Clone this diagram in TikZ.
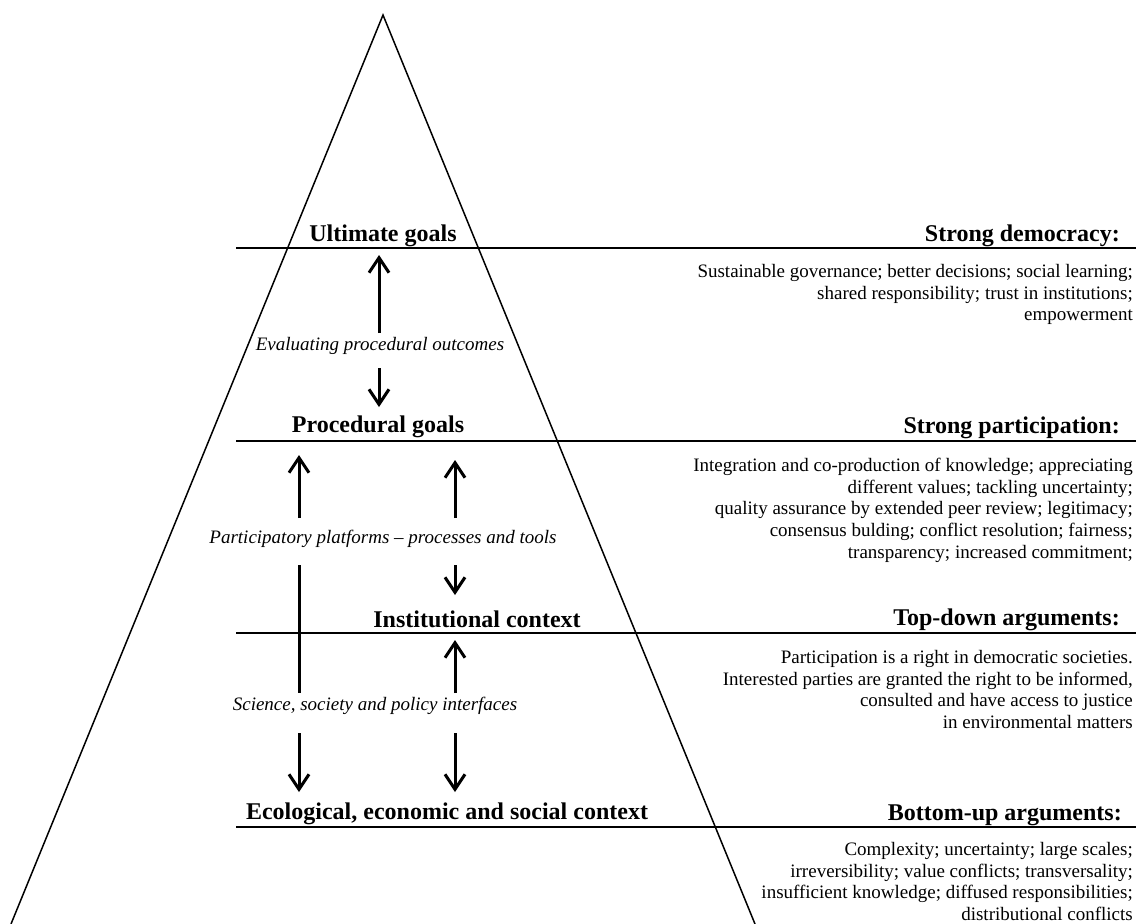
\documentclass[tikz,border=0pt]{standalone}
\usepackage{fontspec}
\setmainfont{Liberation Serif}
\usetikzlibrary{arrows.meta}
\tikzset{
  edge/.style={line width=1.5pt},
  level/.style={line width=2pt},
  head/.style={font=\fontsize{24}{28}\selectfont\bfseries, inner sep=0pt},
  body/.style={font=\fontsize{19}{21.7}\selectfont, align=right, inner sep=0pt, anchor=north east},
  lab/.style={font=\fontsize{19}{22}\selectfont\itshape, inner sep=0pt, anchor=base},
  arr/.style={line width=3pt, -{Straight Barb[length=15pt,width=20pt,line width=3pt]}},
  bar/.style={line width=3pt}
}
\begin{document}
\begin{tikzpicture}[x=1pt,y=-1pt]
\useasboundingbox (0,0) rectangle (1136,924);
% pyramid
\coordinate (apex) at (383,15);
\coordinate (bl) at (11,924);
\coordinate (br) at (755,924);
\draw[edge] (bl) -- (apex) -- (br);
% level lines
\coordinate (l1a) at (236,248); \coordinate (l1b) at (1136,248);
\coordinate (l2a) at (236,441); \coordinate (l2b) at (1136,441);
\coordinate (l3a) at (236,633); \coordinate (l3b) at (1136,633);
\coordinate (l4a) at (236,827); \coordinate (l4b) at (1136,827);
\draw[level] (l1a) -- (l1b);
\draw[level] (l2a) -- (l2b);
\draw[level] (l3a) -- (l3b);
\draw[level] (l4a) -- (l4b);
% left headers
\node[head, anchor=base] (ult) at (383,241) {Ultimate goals};
\node[head, anchor=base] (proc) at (378,432) {Procedural goals};
\node[head, anchor=base] (inst) at (477,627) {Institutional context};
\node[head, anchor=base] (eco) at (447,819) {Ecological, economic and social context};
% right headers
\node[head, anchor=base east] (sd) at (1120,241) {Strong democracy:};
\node[head, anchor=base east] (sp) at (1120,433) {Strong participation:};
\node[head, anchor=base east] (td) at (1120,625) {Top-down arguments:};
\node[head, anchor=base east] (bu) at (1122,820) {Bottom-up arguments:};
% right bodies
\node[body] (sdt) at (1133,264) {Sustainable governance; better decisions; social learning;\\ shared responsibility; trust in institutions;\\ empowerment};
\node[body] (spt) at (1133,458) {Integration and co-production of knowledge; appreciating\\ different values; tackling uncertainty;\\ quality assurance by extended peer review; legitimacy;\\ consensus bulding; conflict resolution; fairness;\\ transparency; increased commitment;};
\node[body] (tdt) at (1133,650) {Participation is a right in democratic societies.\\ Interested parties are granted the right to be informed,\\ consulted and have access to justice\\ in environmental matters};
\node[body] (but) at (1133,842) {Complexity; uncertainty; large scales;\\ irreversibility; value conflicts; transversality;\\ insufficient knowledge; diffused responsibilities;\\ distributional conflicts};
% italic labels
\node[lab] (eval) at (380,350) {Evaluating procedural outcomes};
\node[lab] (part) at (383,543) {Participatory platforms -- processes and tools};
\node[lab] (sci) at (375,710) {Science, society and policy interfaces};
% arrows: evaluating
\coordinate (e1s) at (379,333); \coordinate (e1t) at (379,255);
\coordinate (e2s) at (379,368); \coordinate (e2t) at (379,407);
\draw[arr] (e1s) -- (e1t);
\draw[arr] (e2s) -- (e2t);
% left column
\coordinate (p1s) at (299,518); \coordinate (p1t) at (299,455);
\coordinate (p2s) at (299,565); \coordinate (p2t) at (299,693);
\coordinate (p3s) at (299,733); \coordinate (p3t) at (299,792);
\draw[arr] (p1s) -- (p1t);
\draw[bar] (p2s) -- (p2t);
\draw[arr] (p3s) -- (p3t);
% right column
\coordinate (q1s) at (455,518); \coordinate (q1t) at (455,460);
\coordinate (q2s) at (455,565); \coordinate (q2t) at (455,595);
\coordinate (q3s) at (455,693); \coordinate (q3t) at (455,640);
\coordinate (q4s) at (455,733); \coordinate (q4t) at (455,792);
\draw[arr] (q1s) -- (q1t);
\draw[arr] (q2s) -- (q2t);
\draw[arr] (q3s) -- (q3t);
\draw[arr] (q4s) -- (q4t);
\end{tikzpicture}
\end{document}
